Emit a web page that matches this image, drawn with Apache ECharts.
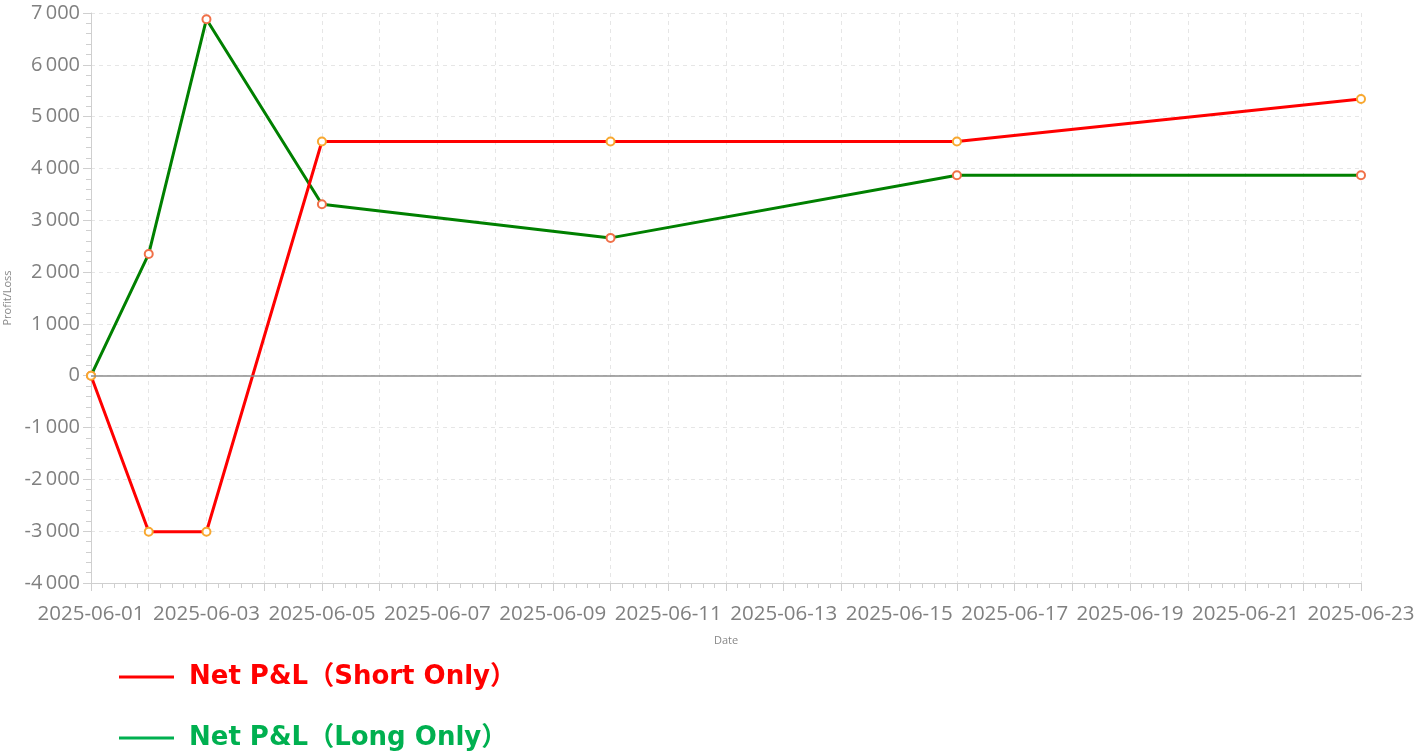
<!DOCTYPE html>
<html>
<head>
<meta charset="utf-8">
<title>Net P&L</title>
<script src="https://cdn.jsdelivr.net/npm/echarts@6/dist/echarts.min.js"></script>
<style>
  html, body { margin: 0; padding: 0; background: #fff; }
  #chart { width: 1415px; height: 752px; }
</style>
</head>
<body>
<div id="chart"></div>
<script>
// dates with trades
var dates = ['2025-06-01', '2025-06-02', '2025-06-03', '2025-06-05', '2025-06-10', '2025-06-16', '2025-06-23'];
var shortPnl = [0, -3010, -3010, 4520, 4520, 4520, 5340];
var longPnl = [0, 2350, 6880, 3310, 2660, 3870, 3870];
var seriesNames = ['Net P&L（Short Only）', 'Net P&L（Long Only）'];

var DAY = 86400000;
var xMin = '2025-06-01', xMax = '2025-06-23';

function pairs(vals) {
  return dates.map(function (d, i) { return [d, vals[i]]; });
}

function pad(n) { return n < 10 ? '0' + n : '' + n; }

// "7 000" style grouping
function fmtNum(v) {
  var s = Math.abs(v).toString();
  if (s.length > 3) s = s.slice(0, s.length - 3) + '\u2009' + s.slice(s.length - 3);
  return (v < 0 ? '-' : '') + s;
}

var chart = echarts.init(document.getElementById('chart'));
var startTs = echarts.time.parse(xMin).getTime();

var tickFont = '"Open Sans", sans-serif';
var legendFont = '"DejaVu Sans", "Noto Sans CJK SC", sans-serif';

function legendFor(name, color, top) {
  return {
    orient: 'vertical',
    left: 119,
    top: top,
    padding: 0,
    icon: 'rect',
    itemWidth: 55,
    itemHeight: 3,
    textStyle: { fontSize: 26, fontWeight: 'bold', fontFamily: legendFont, padding: [0, 0, 0, 10] },
    data: [{ name: name, itemStyle: { color: color, borderWidth: 0 }, textStyle: { color: color } }]
  };
}

chart.setOption({
  animation: false,
  grid: { left: 91, right: 54, top: 13, bottom: 169, outerBoundsMode: 'none', containLabel: false },
  legend: [
    legendFor(seriesNames[0], '#ff0000', 664),
    legendFor(seriesNames[1], '#00b050', 725)
  ],
  xAxis: {
    type: 'time',
    min: xMin,
    max: xMax,
    splitNumber: 22,
    minInterval: DAY,
    maxInterval: DAY,
    name: 'Date',
    nameLocation: 'middle',
    nameGap: 52,
    nameTextStyle: { fontSize: 11, color: '#888', fontFamily: tickFont },
    axisLine: { show: true, onZero: false, lineStyle: { color: '#cfcfcf' } },
    axisTick: { show: true, length: 8, lineStyle: { color: '#cfcfcf' } },
    minorTick: { show: true, splitNumber: 5, length: 5, lineStyle: { color: '#cfcfcf' } },
    axisLabel: {
      color: '#808080',
      fontSize: 20.5,
      fontFamily: tickFont,
      margin: 21,
      showMinLabel: true,
      showMaxLabel: true,
      formatter: function (value) {
        var k = Math.round((value - startTs) / DAY);
        if (k % 2 !== 0) return '';
        var d = new Date(value);
        return d.getFullYear() + '-' + pad(d.getMonth() + 1) + '-' + pad(d.getDate());
      }
    },
    splitLine: { show: true, lineStyle: { color: '#e6e6e6', type: [4, 4] } }
  },
  yAxis: {
    type: 'value',
    min: -4000,
    max: 7000,
    interval: 1000,
    name: 'Profit/Loss',
    nameLocation: 'middle',
    nameGap: 75,
    nameTextStyle: { fontSize: 11, color: '#888', fontFamily: tickFont },
    axisLine: { show: true, lineStyle: { color: '#cfcfcf' } },
    axisTick: { show: true, length: 8, lineStyle: { color: '#cfcfcf' } },
    minorTick: { show: true, splitNumber: 5, length: 5, lineStyle: { color: '#cfcfcf' } },
    axisLabel: {
      color: '#808080',
      fontSize: 20,
      fontFamily: tickFont,
      margin: 11,
      formatter: fmtNum
    },
    splitLine: { show: true, lineStyle: { color: '#e6e6e6', type: [4, 4] } }
  },
  series: [
    {
      name: seriesNames[1],
      type: 'line',
      data: pairs(longPnl),
      symbol: 'circle',
      symbolSize: 8,
      showAllSymbol: true,
      lineStyle: { color: '#008000', width: 3 },
      itemStyle: { color: '#fff', borderColor: '#f07048', borderWidth: 2 },
      z: 2
    },
    {
      name: seriesNames[0],
      type: 'line',
      data: pairs(shortPnl),
      symbol: 'circle',
      symbolSize: 8,
      showAllSymbol: true,
      lineStyle: { color: '#ff0000', width: 3 },
      itemStyle: { color: '#fff', borderColor: '#f8a830', borderWidth: 2 },
      markLine: {
        silent: true,
        symbol: 'none',
        label: { show: false },
        lineStyle: { color: '#8c8c8c', type: 'solid', width: 1.5 },
        data: [{ yAxis: 0 }]
      },
      z: 3
    }
  ]
});
</script>
</body>
</html>
